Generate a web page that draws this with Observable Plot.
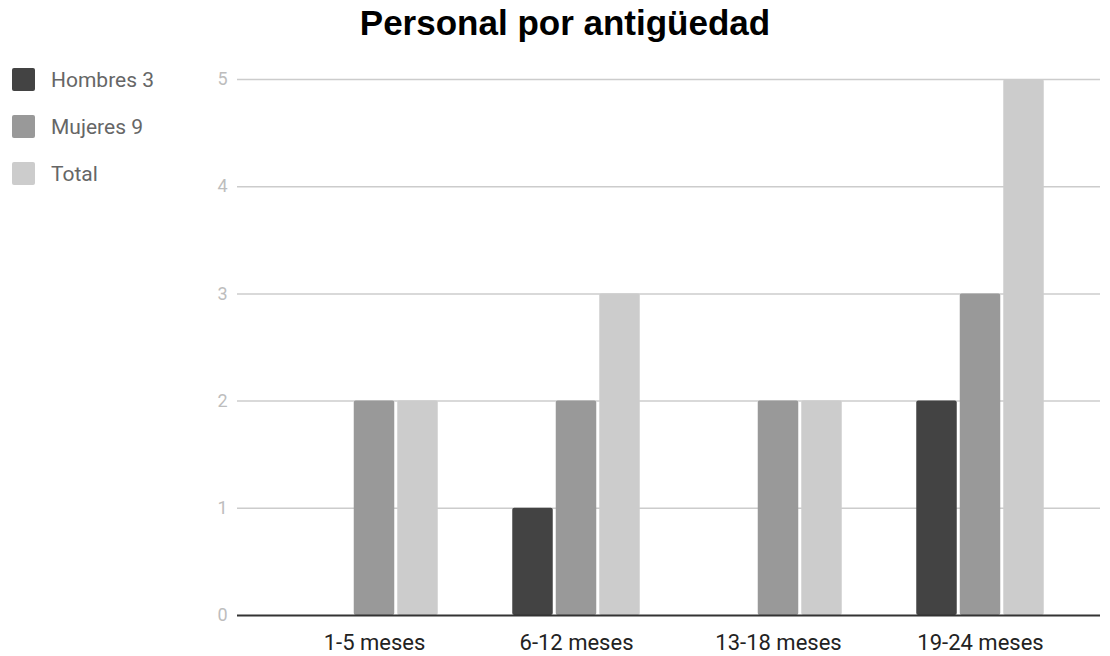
<!DOCTYPE html>
<html>
<head>
<meta charset="utf-8">
<script src="https://cdn.jsdelivr.net/npm/d3@7"></script>
<script src="https://cdn.jsdelivr.net/npm/@observablehq/plot@0.6"></script>
<style>
  html, body { margin: 0; padding: 0; background: #fff; }
  #wrap { position: relative; width: 1110px; height: 656px; overflow: hidden; }
  #chart { position: absolute; left: 0; top: 0; }
  #title { position: absolute; left: 0; width: 1130px; top: 3px; text-align: center;
           font-family: "Liberation Sans", Arial, sans-serif; font-weight: bold; font-size: 35px; color: #000; }
  #legend { position: absolute; left: 12px; top: 68px; font-family: Roboto, sans-serif; font-size: 21px; color: #666; }
  .item { display: flex; align-items: center; height: 23px; margin-bottom: 24px; }
  .sw { width: 23px; height: 23px; border-radius: 2px; margin-right: 16px; }
</style>
</head>
<body>
<div id="wrap">
  <div id="chart"></div>
  <div id="title">Personal por antigüedad</div>
  <div id="legend"></div>
</div>
<script>
const categories = ["1-5 meses", "6-12 meses", "13-18 meses", "19-24 meses"];
const series = ["Hombres 3", "Mujeres 9", "Total"];
const hombres = [0, 1, 0, 2];
const mujeres = [2, 2, 2, 3];
const total = [2, 3, 2, 5];
const colors = ["#434343", "#999999", "#cccccc"];
const yTicks = [0, 1, 2, 3, 4, 5];

const values = [hombres, mujeres, total];
const insets = [[37.25, 124.25], [80.75, 80.75], [124.25, 37.25]];

const bars = values.map((vals, s) =>
  Plot.barY(categories, {
    x: d => d,
    y: (d, i) => vals[i],
    fill: colors[s],
    insetLeft: insets[s][0],
    insetRight: insets[s][1],
    rx: 2
  })
);

const chart = Plot.plot({
  width: 1110,
  height: 656,
  marginLeft: 237,
  marginRight: 10,
  marginTop: 79,
  marginBottom: 41,
  style: { fontFamily: "Roboto, sans-serif", background: "#fff" },
  x: { type: "band", domain: categories, padding: 0, paddingOuter: 0.131, align: 0.66, label: null },
  y: { domain: [0, 5], label: null },
  marks: [
    Plot.gridY(yTicks.filter(t => t !== 0), { stroke: "#cccccc", strokeOpacity: 1, strokeWidth: 1.5 }),
    Plot.axisY(yTicks, { tickSize: 0, tickPadding: 10, fontSize: 18, tickFormat: d => String(d), color: "#bdbdbd", fill: "#bdbdbd", label: null }),
    Plot.axisX({ tickSize: 0, tickPadding: 19, fontSize: 22, color: "#222", fill: "#222", label: null }),
    ...bars,
    Plot.ruleY([0], { stroke: "#333333", strokeWidth: 2 })
  ]
});
document.getElementById("chart").appendChild(chart);

const legend = document.getElementById("legend");
series.forEach((name, i) => {
  const item = document.createElement("div");
  item.className = "item";
  const sw = document.createElement("div");
  sw.className = "sw";
  sw.style.background = colors[i];
  const lab = document.createElement("span");
  lab.textContent = name;
  item.appendChild(sw);
  item.appendChild(lab);
  legend.appendChild(item);
});
</script>
</body>
</html>
